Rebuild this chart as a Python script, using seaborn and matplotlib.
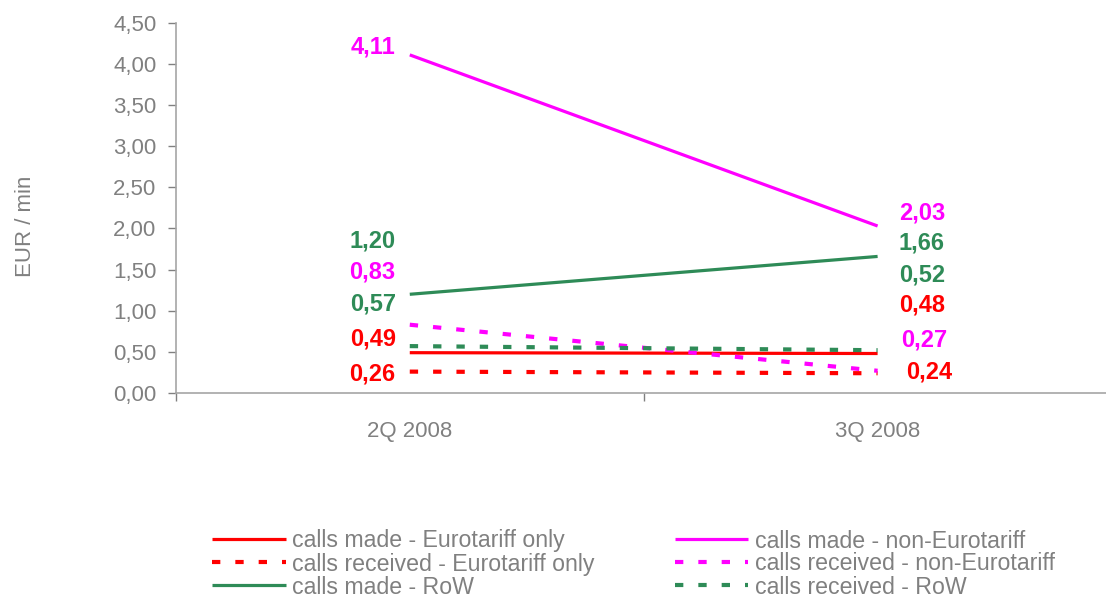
import pandas as pd
import matplotlib
matplotlib.use("Agg")
import matplotlib.pyplot as plt
import seaborn as sns
from matplotlib.ticker import FuncFormatter, MultipleLocator, FixedLocator

quarters = ["2Q 2008", "3Q 2008"]
series_names = [
    "calls made - Eurotariff only",
    "calls received - Eurotariff only",
    "calls made - RoW",
    "calls made - non-Eurotariff",
    "calls received - non-Eurotariff",
    "calls received - RoW",
]
made_euro = [0.49, 0.48]
received_euro = [0.26, 0.24]
made_row = [1.20, 1.66]
made_non_euro = [4.11, 2.03]
received_non_euro = [0.83, 0.27]
received_row = [0.57, 0.52]
values = [made_euro, received_euro, made_row, made_non_euro, received_non_euro, received_row]

RED = "#FF0000"
MAGENTA = "#FF00FF"
GREEN = "#2E8B57"
GREY = "#808080"
colors = [RED, RED, GREEN, MAGENTA, MAGENTA, GREEN]
dashed = [False, True, False, False, True, True]

# where the value labels sit (data units), so they do not overlap
label_y_left = [0.66, 0.23, 1.85, 4.20, 1.47, 1.08]
label_y_right = [1.07, 0.26, 1.82, 2.19, 0.64, 1.44]
label_x_right = [1.045, 1.06, 1.045, 1.045, 1.05, 1.045]


def comma(v):
    return f"{v:.2f}".replace(".", ",")


rows = []
for name, vals in zip(series_names, values):
    for q, v in zip(quarters, vals):
        rows.append({"quarter": q, "series": name, "value": v})
df = pd.DataFrame(rows)

sns.set_style("white")
plt.rcParams["font.family"] = ["Liberation Sans", "DejaVu Sans"]

fig = plt.figure(figsize=(11.06, 6.0), dpi=100)
ax = fig.add_axes([0.159, 0.345, 0.846, 0.617])

palette = dict(zip(series_names, colors))
dashes = {n: ((2.0, 3.6) if d else "") for n, d in zip(series_names, dashed)}
sns.lineplot(data=df, x="quarter", y="value", hue="series", style="series",
             palette=palette, dashes=dashes, hue_order=series_names,
             style_order=series_names, ax=ax, legend=False)

for line, d in zip(ax.get_lines(), dashed):
    line.set_linewidth(3.0 if d else 2.3)
    line.set_solid_capstyle("butt")
    line.set_dash_capstyle("butt")

for vals, c, yl, yr, xr in zip(values, colors, label_y_left, label_y_right, label_x_right):
    ax.text(-0.03, yl, comma(vals[0]), color=c, fontsize=17,
            fontweight="bold", ha="right", va="center")
    ax.text(xr, yr, comma(vals[1]), color=c, fontsize=17,
            fontweight="bold", ha="left", va="center")

ax.set_xlim(-0.5, 1.5)
ax.set_ylim(0, 4.5)
ax.yaxis.set_major_locator(MultipleLocator(0.5))
ax.yaxis.set_major_formatter(FuncFormatter(lambda v, p: comma(v)))
ax.xaxis.set_minor_locator(FixedLocator([-0.5, 0.5, 1.5]))
ax.tick_params(axis="x", which="major", length=0, pad=20, labelsize=16, labelcolor=GREY)
ax.tick_params(axis="x", which="minor", length=6, width=1, color=GREY, direction="out", bottom=True)
ax.tick_params(axis="y", length=6, width=1, color=GREY, direction="out", left=True,
               pad=8, labelsize=16, labelcolor=GREY)

for side in ["top", "right"]:
    ax.spines[side].set_visible(False)
for side in ["left", "bottom"]:
    ax.spines[side].set_color("#A6A6A6")
    ax.spines[side].set_linewidth(1.2)

ax.set_xlabel("")
ax.set_ylabel("EUR / min", fontsize=16, color=GREY)
ax.yaxis.set_label_coords(-0.150, 0.45)

handles = ax.get_lines()[:6]
leg = fig.legend(handles, series_names, ncol=2, loc="center", bbox_to_anchor=(0.573, 0.06),
                 frameon=False, fontsize=16.7, handlelength=3.15, handletextpad=0.3,
                 columnspacing=3.45, labelspacing=0.0, borderpad=0.1)
for t in leg.get_texts():
    t.set_color(GREY)

fig.savefig("out.png", dpi=100)
